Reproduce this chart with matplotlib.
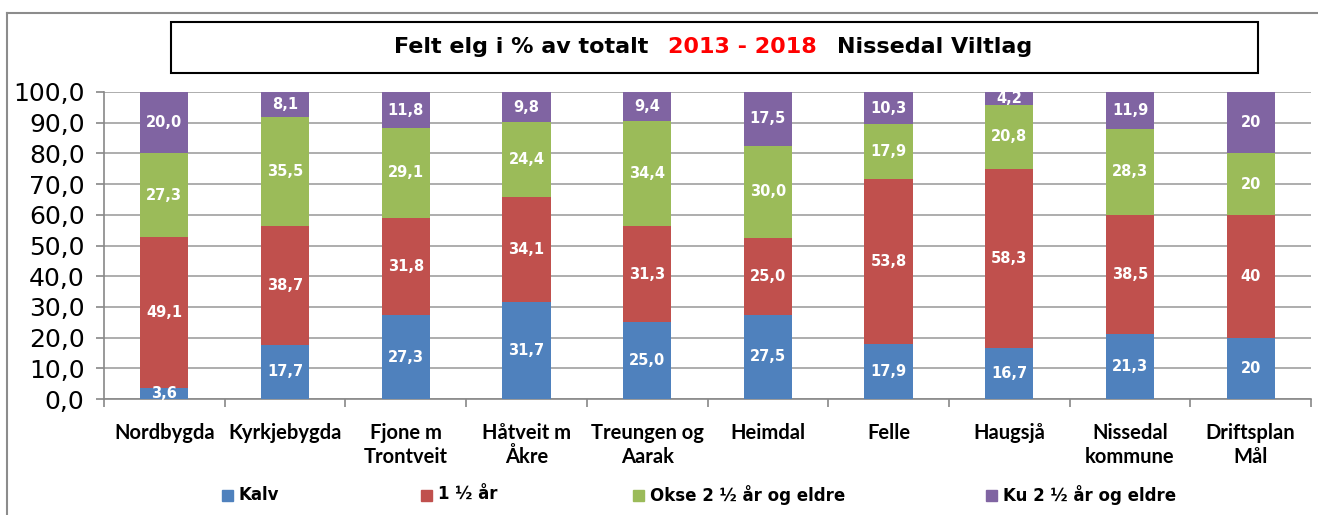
import matplotlib
matplotlib.use("Agg")
import matplotlib.pyplot as plt
import numpy as np
from matplotlib.patches import Rectangle
from matplotlib.lines import Line2D

categories = ["Nordbygda", "Kyrkjebygda", "Fjone m\nTrontveit", "Håtveit m\nÅkre",
              "Treungen og\nAarak", "Heimdal", "Felle", "Haugsjå", "Nissedal\nkommune",
              "Driftsplan\nMål"]
series_names = ["Kalv", "1 ½ år", "Okse 2 ½ år og eldre", "Ku 2 ½ år og eldre"]
kalv = [3.6, 17.7, 27.3, 31.7, 25.0, 27.5, 17.9, 16.7, 21.3, 20]
aar15 = [49.1, 38.7, 31.8, 34.1, 31.3, 25.0, 53.8, 58.3, 38.5, 40]
okse = [27.3, 35.5, 29.1, 24.4, 34.4, 30.0, 17.9, 20.8, 28.3, 20]
ku = [20.0, 8.1, 11.8, 9.8, 9.4, 17.5, 10.3, 4.2, 11.9, 20]
label_kalv = ["3,6", "17,7", "27,3", "31,7", "25,0", "27,5", "17,9", "16,7", "21,3", "20"]
label_aar15 = ["49,1", "38,7", "31,8", "34,1", "31,3", "25,0", "53,8", "58,3", "38,5", "40"]
label_okse = ["27,3", "35,5", "29,1", "24,4", "34,4", "30,0", "17,9", "20,8", "28,3", "20"]
label_ku = ["20,0", "8,1", "11,8", "9,8", "9,4", "17,5", "10,3", "4,2", "11,9", "20"]
yticks = [0, 10, 20, 30, 40, 50, 60, 70, 80, 90, 100]
ytick_labels = ["0,0", "10,0", "20,0", "30,0", "40,0", "50,0", "60,0", "70,0", "80,0", "90,0", "100,0"]

colors = ["#4F81BD", "#C0504D", "#9BBB59", "#8064A2"]
W, H = 1318, 515
fig = plt.figure(figsize=(W / 100, H / 100), dpi=100)
fig.patch.set_facecolor("white")

ax = fig.add_axes([104 / W, 1 - 399 / H, (1311 - 104) / W, (399 - 92) / H])
x = np.arange(len(categories))
bottom = np.zeros(len(categories))
all_vals = [kalv, aar15, okse, ku]
all_labels = [label_kalv, label_aar15, label_okse, label_ku]
for vals, labs, col in zip(all_vals, all_labels, colors):
    vals = np.array(vals, dtype=float)
    ax.bar(x, vals, 0.4, bottom=bottom, color=col, zorder=3)
    for xi, b, v, lab in zip(x, bottom, vals, labs):
        ax.text(xi, b + v / 2, lab, ha="center", va="center", color="white",
                fontsize=10.5, fontweight="bold", family="DejaVu Sans", zorder=4)
    bottom += vals

ax.set_xlim(-0.5, len(categories) - 0.5)
ax.set_ylim(0, 100)
ax.set_yticks(yticks)
ax.set_yticklabels(ytick_labels, family="DejaVu Sans", fontsize=18)
ax.yaxis.grid(True, color="#A0A0A0", linewidth=1.2, zorder=0)
ax.set_xticks(x)
ax.set_xticklabels(categories, family="Lato", fontsize=14.5, fontweight="bold",
                   linespacing=1.3, va="top")
ax.set_xticks(np.arange(-0.5, len(categories)), minor=True)
ax.tick_params(axis="x", which="major", length=0, pad=17)
ax.tick_params(axis="x", which="minor", length=6, color="#888888", width=1.2, direction="out")
ax.tick_params(axis="y", length=6, color="#888888", width=1.2, pad=8)
for s in ["top", "right"]:
    ax.spines[s].set_visible(False)
for s in ["left", "bottom"]:
    ax.spines[s].set_color("#888888")
    ax.spines[s].set_linewidth(1.2)

# outer frame lines
fig.add_artist(Line2D([7 / W, 1], [1 - 13 / H, 1 - 13 / H], color="#8C8C8C", linewidth=1.5))
fig.add_artist(Line2D([7 / W, 7 / W], [0, 1 - 13 / H], color="#8C8C8C", linewidth=1.5))

# title box
fig.add_artist(Rectangle((171 / W, 1 - 73 / H), (1258 - 171) / W, (73 - 22) / H,
                         fill=False, edgecolor="black", linewidth=1.5, transform=fig.transFigure))
tfont = dict(family="DejaVu Sans", fontweight="bold", fontsize=16, va="center")
ty = 1 - 47 / H
fig.text(394 / W, ty, "Felt elg i % av totalt", color="black", ha="left", **tfont)
fig.text(668 / W, ty, "2013 - 2018", color="#FF0000", ha="left", **tfont)
fig.text(837 / W, ty, "Nissedal Viltlag", color="black", ha="left", **tfont)

# legend
ly = 1 - 495 / H
lfont = dict(family="DejaVu Sans", fontweight="bold", fontsize=12, va="center", ha="left")
leg_x = [222, 421, 633, 986]
for name, col, lx in zip(series_names, colors, leg_x):
    fig.add_artist(Rectangle((lx / W, ly - 6 / H), 11 / W, 11 / H, color=col,
                             transform=fig.transFigure))
    fig.text((lx + 17) / W, ly, name, color="black", **lfont)

fig.savefig("out.png", dpi=100)
